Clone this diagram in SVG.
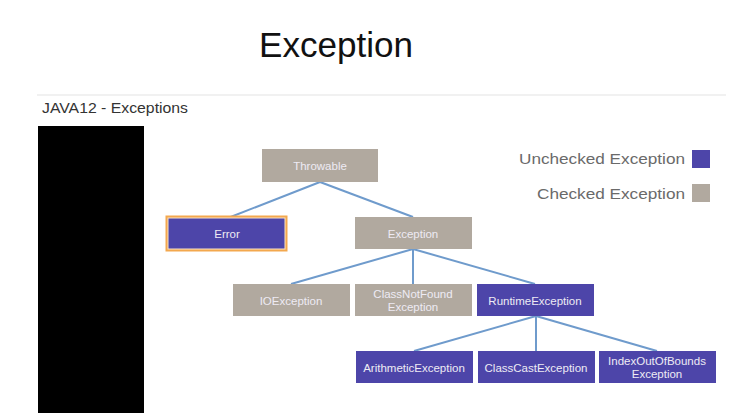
<svg xmlns="http://www.w3.org/2000/svg" width="753" height="420" viewBox="0 0 753 420">
<style>
.chk{fill:#b1a99f}
.unc{fill:#4d45a9}
.nt{font-family:"Liberation Sans",Arial,sans-serif;font-size:11.5px;fill:#eeebf4;text-anchor:middle}
.lg{font-family:"Liberation Sans",Arial,sans-serif;font-size:15px;fill:#6a6a6a}
.cn{stroke:#6f9bcc;stroke-width:2;fill:none}
</style>
<rect width="753" height="420" fill="#ffffff"/>
<text x="336" y="57" font-family="Liberation Sans, Arial, sans-serif" font-size="35" fill="#111" text-anchor="middle" textLength="154" lengthAdjust="spacingAndGlyphs">Exception</text>
<line x1="37" y1="95" x2="726" y2="95" stroke="#ececec" stroke-width="1.5"/>
<text x="42" y="113" font-family="Liberation Sans, Arial, sans-serif" font-size="15" fill="#333" textLength="146" lengthAdjust="spacingAndGlyphs">JAVA12 - Exceptions</text>
<rect x="38" y="126" width="106" height="287" fill="#000"/>

<g id="connectors">
<line class="cn" x1="320" y1="182" x2="228" y2="218"/>
<line class="cn" x1="320" y1="182" x2="413" y2="217"/>
<line class="cn" x1="413" y1="249" x2="291" y2="284"/>
<line class="cn" x1="413" y1="249" x2="413" y2="284"/>
<line class="cn" x1="413" y1="249" x2="535" y2="284"/>
<line class="cn" x1="536" y1="316" x2="414" y2="351"/>
<line class="cn" x1="536" y1="316" x2="536" y2="351"/>
<line class="cn" x1="536" y1="316" x2="657" y2="351"/>
</g>

<g id="throwable"><rect class="chk" x="262" y="149" width="116" height="33"/><text class="nt" x="320" y="169.5">Throwable</text></g>
<g id="error"><rect x="166.5" y="216.5" width="120" height="34" fill="#fbe3c4" stroke="#f3a84e" stroke-width="2"/><rect class="unc" x="168.5" y="218.5" width="116" height="30"/><text class="nt" x="227" y="238">Error</text></g>
<g id="exception"><rect class="chk" x="355" y="217" width="117" height="32"/><text class="nt" x="413" y="237.5">Exception</text></g>
<g id="ioexception"><rect class="chk" x="233" y="284" width="117" height="32"/><text class="nt" x="291" y="304.5">IOException</text></g>
<g id="classnotfound"><rect class="chk" x="355" y="284" width="117" height="32"/><text class="nt" x="413" y="298">ClassNotFound</text><text class="nt" x="413" y="310.5">Exception</text></g>
<g id="runtime"><rect class="unc" x="477" y="284" width="117" height="32"/><text class="nt" x="535" y="304.5">RuntimeException</text></g>
<g id="arithmetic"><rect class="unc" x="356" y="351" width="117" height="32"/><text class="nt" x="414" y="371.5">ArithmeticException</text></g>
<g id="classcast"><rect class="unc" x="478" y="351" width="117" height="32"/><text class="nt" x="536" y="371.5">ClassCastException</text></g>
<g id="indexoutofbounds"><rect class="unc" x="599" y="351" width="117" height="32"/><text class="nt" x="657" y="365">IndexOutOfBounds</text><text class="nt" x="657" y="377.5">Exception</text></g>

<g id="legend">
<text class="lg" x="685" y="164" text-anchor="end" textLength="166" lengthAdjust="spacingAndGlyphs">Unchecked Exception</text>
<rect class="unc" x="692" y="150" width="18" height="18"/>
<text class="lg" x="685" y="199" text-anchor="end" textLength="148" lengthAdjust="spacingAndGlyphs">Checked Exception</text>
<rect class="chk" x="692" y="184" width="18" height="18"/>
</g>
</svg>
